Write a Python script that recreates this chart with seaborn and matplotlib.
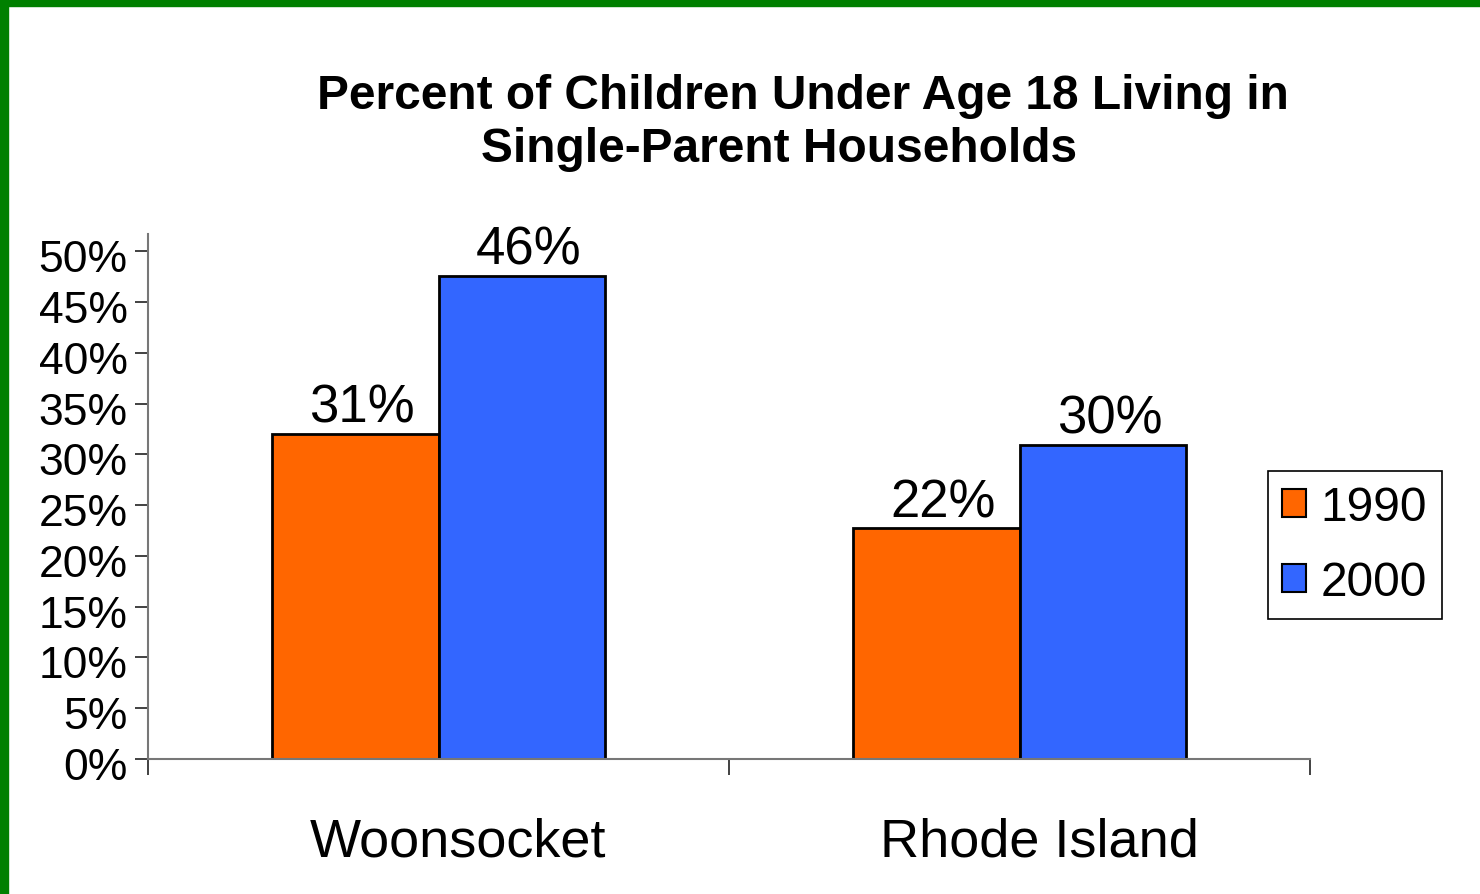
import pandas as pd
import seaborn as sns
import matplotlib.pyplot as plt
from matplotlib.patches import Rectangle
from matplotlib.ticker import FixedLocator
from matplotlib.transforms import ScaledTranslation

places = ["Woonsocket", "Rhode Island"]
years = ["1990", "2000"]
# bar heights as drawn in the picture (percent)
pct_1990 = [32.0, 22.7]
pct_2000 = [47.6, 30.9]
# printed labels above the bars
lab_1990 = ["31%", "22%"]
lab_2000 = ["46%", "30%"]
yticks = [0, 5, 10, 15, 20, 25, 30, 35, 40, 45, 50]

df = pd.DataFrame({
    "place": places * 2,
    "year": [years[0]] * 2 + [years[1]] * 2,
    "pct": pct_1990 + pct_2000,
})

sns.set_style("white")
plt.rcParams["font.family"] = ["Liberation Sans", "DejaVu Sans"]
plt.rcParams["text.color"] = "black"
plt.rcParams["xtick.color"] = "black"
plt.rcParams["ytick.color"] = "black"

fig = plt.figure(figsize=(14.8, 8.95), dpi=100)
ax = fig.add_axes([148 / 1480, 1 - 760 / 895, (1310 - 148) / 1480, (760 - 235) / 895])

colors = ["#FF6600", "#3366FF"]
sns.barplot(data=df, x="place", y="pct", hue="year", palette=colors, saturation=1,
            width=0.574, edgecolor="black", linewidth=2, ax=ax)

# labels above bars (sit a bit right of the bar centre in the original)
for cont, labs in zip(ax.containers, [lab_1990, lab_2000]):
    for p, lab in zip(cont.patches, labs):
        ax.annotate(lab, (p.get_x() + p.get_width() / 2, p.get_height()),
                    xytext=(5, 1), textcoords="offset points",
                    ha="center", va="bottom", fontsize=38)

ax.set_xlim(-0.5, 1.5)
ax.set_ylim(0, 51.7)
ax.set_yticks(yticks)
ax.set_yticklabels([f"{v}%" for v in yticks], fontsize=32)
ax.tick_params(axis="y", length=9.5, width=1.3, pad=5, left=True, color="#333333")
down = ScaledTranslation(0, -4 / 100, fig.dpi_scale_trans)
for lbl in ax.get_yticklabels():
    lbl.set_transform(lbl.get_transform() + down)
ax.set_xlabel("")
ax.set_ylabel("")

# category names (a little right of centre, as in the original), separator ticks
ax.tick_params(axis="x", which="major", length=0, labelbottom=False)
shift = ScaledTranslation(20 / 100, -58 / 100, fig.dpi_scale_trans)
for i, name in enumerate(places):
    ax.text(i, 0, name, transform=ax.get_xaxis_transform() + shift,
            ha="center", va="top", fontsize=39)
ax.xaxis.set_minor_locator(FixedLocator([-0.5, 0.5, 1.5]))
ax.tick_params(axis="x", which="minor", length=11.5, width=1.3, bottom=True, color="#333333")

for s in ["top", "right"]:
    ax.spines[s].set_visible(False)
for s in ["left", "bottom"]:
    ax.spines[s].set_color("#777777")
    ax.spines[s].set_linewidth(1.5)

# legend
ax.get_legend().remove()
handles = [Rectangle((0, 0), 1, 1, facecolor=c, edgecolor="black", linewidth=1.5) for c in colors]
leg = fig.legend(handles, years, loc="center left",
                 bbox_to_anchor=(1268 / 1480, 1 - 546 / 895), fontsize=34.5,
                 handlelength=0.5, handleheight=0.5, handletextpad=0.3,
                 labelspacing=0.62, borderpad=0.3, borderaxespad=0,
                 fancybox=False, framealpha=1, edgecolor="black")
leg.get_frame().set_linewidth(1.2)

fig.text(803 / 1480, 1 - 97 / 895, "Percent of Children Under Age 18 Living in",
         ha="center", va="center", fontsize=34.5, fontweight="bold")
fig.text(779 / 1480, 1 - 149 / 895, "Single-Parent Households",
         ha="center", va="center", fontsize=34.5, fontweight="bold")

# green frame at top and left
fig.add_artist(Rectangle((0, 1 - 7 / 895), 1, 7 / 895, transform=fig.transFigure,
                         color="#008000", zorder=10))
fig.add_artist(Rectangle((0, 0), 8 / 1480, 1, transform=fig.transFigure,
                         color="#008000", zorder=10))

fig.savefig("out.png", dpi=100)
